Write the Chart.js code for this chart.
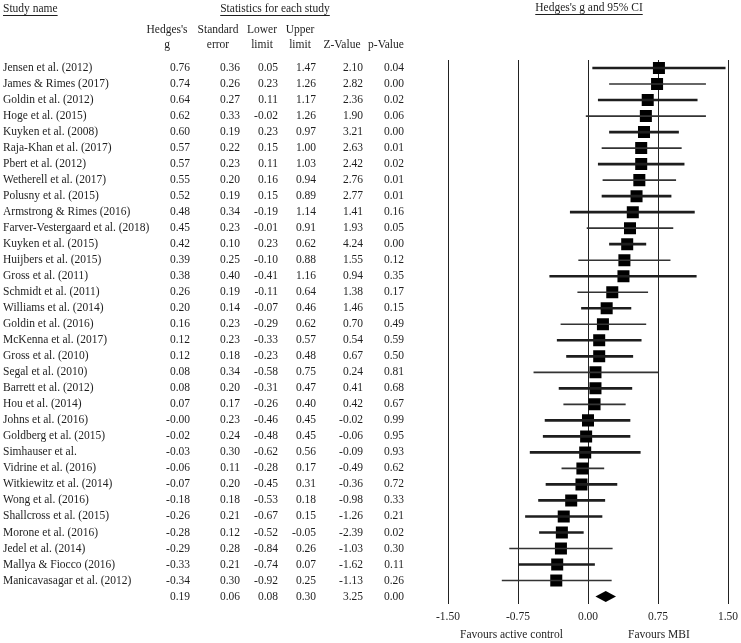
<!DOCTYPE html>
<html>
<head>
<meta charset="utf-8">
<script src="https://cdn.jsdelivr.net/npm/chart.js@4"></script>
<style>
  body { margin: 0; background: #fff; }
</style>
</head>
<body>
<canvas id="forest" width="741" height="643"></canvas>
<script>
const studies = [
  "Jensen et al. (2012)", "James & Rimes (2017)", "Goldin et al. (2012)", "Hoge et al. (2015)",
  "Kuyken et al. (2008)", "Raja-Khan et al. (2017)", "Pbert et al. (2012)", "Wetherell et al. (2017)",
  "Polusny et al. (2015)", "Armstrong & Rimes (2016)", "Farver-Vestergaard et al. (2018)",
  "Kuyken et al. (2015)", "Huijbers et al. (2015)", "Gross et al. (2011)", "Schmidt et al. (2011)",
  "Williams et al. (2014)", "Goldin et al. (2016)", "McKenna et al. (2017)", "Gross et al. (2010)",
  "Segal et al. (2010)", "Barrett et al. (2012)", "Hou et al. (2014)", "Johns et al. (2016)",
  "Goldberg et al. (2015)", "Simhauser et al.", "Vidrine et al. (2016)", "Witkiewitz et al. (2014)",
  "Wong et al. (2016)", "Shallcross et al. (2015)", "Morone et al. (2016)", "Jedel et al. (2014)",
  "Mallya & Fiocco (2016)", "Manicavasagar et al. (2012)"
];
const hedgesG = [0.76, 0.74, 0.64, 0.62, 0.60, 0.57, 0.57, 0.55, 0.52, 0.48, 0.45, 0.42, 0.39, 0.38,
  0.26, 0.20, 0.16, 0.12, 0.12, 0.08, 0.08, 0.07, -0, -0.02, -0.03, -0.06, -0.07, -0.18, -0.26,
  -0.28, -0.29, -0.33, -0.34];
const stdError = [0.36, 0.26, 0.27, 0.33, 0.19, 0.22, 0.23, 0.20, 0.19, 0.34, 0.23, 0.10, 0.25, 0.40,
  0.19, 0.14, 0.23, 0.23, 0.18, 0.34, 0.20, 0.17, 0.23, 0.24, 0.30, 0.11, 0.20, 0.18, 0.21, 0.12,
  0.28, 0.21, 0.30];
const lowerLimit = [0.05, 0.23, 0.11, -0.02, 0.23, 0.15, 0.11, 0.16, 0.15, -0.19, -0.01, 0.23, -0.10,
  -0.41, -0.11, -0.07, -0.29, -0.33, -0.23, -0.58, -0.31, -0.26, -0.46, -0.48, -0.62, -0.28, -0.45,
  -0.53, -0.67, -0.52, -0.84, -0.74, -0.92];
const upperLimit = [1.47, 1.26, 1.17, 1.26, 0.97, 1.00, 1.03, 0.94, 0.89, 1.14, 0.91, 0.62, 0.88, 1.16,
  0.64, 0.46, 0.62, 0.57, 0.48, 0.75, 0.47, 0.40, 0.45, 0.45, 0.56, 0.17, 0.31, 0.18, 0.15, -0.05,
  0.26, 0.07, 0.25];
const zValue = [2.10, 2.82, 2.36, 1.90, 3.21, 2.63, 2.42, 2.76, 2.77, 1.41, 1.93, 4.24, 1.55, 0.94,
  1.38, 1.46, 0.70, 0.54, 0.67, 0.24, 0.41, 0.42, -0.02, -0.06, -0.09, -0.49, -0.36, -0.98, -1.26,
  -2.39, -1.03, -1.62, -1.13];
const pValue = [0.04, 0.00, 0.02, 0.06, 0.00, 0.01, 0.02, 0.01, 0.01, 0.16, 0.05, 0.00, 0.12, 0.35,
  0.17, 0.15, 0.49, 0.59, 0.50, 0.81, 0.68, 0.67, 0.99, 0.95, 0.93, 0.62, 0.72, 0.33, 0.21, 0.02,
  0.30, 0.11, 0.26];

// pooled estimate
const summaryG = 0.19, summarySE = 0.06, summaryLower = 0.08, summaryUpper = 0.30;
const summaryZ = 3.25, summaryP = 0.00;

const axisTicks = [-1.5, -0.75, 0, 0.75, 1.5];

// styling
const FONT = '"Liberation Serif", "Times New Roman", serif';
const FONT_SIZE = 11.5;
const INK = '#1e1e1e';
const thinRows = [1, 3, 5, 7, 10, 12, 14, 16, 19, 21, 25, 30, 32];

const rows = studies.map((_, i) => i);
const summaryRow = studies.length;

function fmt(v) {
  return (Object.is(v, -0) ? '-' : '') + v.toFixed(2);
}

const columns = [
  { head: ["Hedges's", 'g'], center: 167, right: 190, values: hedgesG, pooled: summaryG },
  { head: ['Standard', 'error'], center: 218, right: 240, values: stdError, pooled: summarySE },
  { head: ['Lower', 'limit'], center: 262, right: 278, values: lowerLimit, pooled: summaryLower },
  { head: ['Upper', 'limit'], center: 300, right: 316, values: upperLimit, pooled: summaryUpper },
  { head: ['', 'Z-Value'], center: 342, right: 363, values: zValue, pooled: summaryZ },
  { head: ['', 'p-Value'], center: 386, right: 404, values: pValue, pooled: summaryP }
];

function underlined(ctx, text, x, y, align) {
  ctx.textAlign = align;
  ctx.fillText(text, x, y);
  const w = ctx.measureText(text).width;
  const x0 = align === 'center' ? x - w / 2 : x;
  ctx.fillRect(x0, y + 6, w, 1);
}

const tablePlugin = {
  id: 'studyTable',
  afterDraw(chart) {
    const { ctx, scales: { x, y } } = chart;
    ctx.save();
    ctx.fillStyle = INK;
    ctx.font = `${FONT_SIZE}px ${FONT}`;
    ctx.textBaseline = 'middle';

    underlined(ctx, 'Study name', 3, 9, 'left');
    underlined(ctx, 'Statistics for each study', 275, 9, 'center');
    underlined(ctx, "Hedges's g and 95% CI", 589, 8, 'center');

    ctx.textAlign = 'center';
    columns.forEach(c => {
      if (c.head[0]) ctx.fillText(c.head[0], c.center, 30);
      ctx.fillText(c.head[1], c.center, 45);
    });

    rows.forEach(i => {
      const py = y.getPixelForValue(i);
      ctx.textAlign = 'left';
      ctx.fillText(studies[i], 3, py);
      ctx.textAlign = 'right';
      columns.forEach(c => ctx.fillText(fmt(c.values[i]), c.right, py));
    });
    const sy = y.getPixelForValue(summaryRow);
    ctx.textAlign = 'right';
    columns.forEach(c => ctx.fillText(fmt(c.pooled), c.right, sy));

    ctx.textAlign = 'center';
    ctx.fillText('Favours active control', x.getPixelForValue(-0.82), 635);
    ctx.fillText('Favours MBI', x.getPixelForValue(0.76), 635);
    ctx.restore();
  },
  afterDatasetsDraw(chart) {
    const { ctx, scales: { x, y } } = chart;
    const cy = y.getPixelForValue(summaryRow);
    const half = 5.5;
    ctx.save();
    ctx.fillStyle = '#000';
    ctx.beginPath();
    ctx.moveTo(x.getPixelForValue(summaryLower), cy);
    ctx.lineTo(x.getPixelForValue(summaryG), cy - half);
    ctx.lineTo(x.getPixelForValue(summaryUpper), cy);
    ctx.lineTo(x.getPixelForValue(summaryG), cy + half);
    ctx.closePath();
    ctx.fill();
    ctx.restore();
  }
};

const ciLine = i => ({ y: i, x: [lowerLimit[i], upperLimit[i]] });

new Chart(document.getElementById('forest'), {
  type: 'scatter',
  data: {
    datasets: [
      {
        type: 'bar',
        indexAxis: 'y',
        grouped: false,
        barThickness: 2,
        backgroundColor: INK,
        data: rows.filter(i => !thinRows.includes(i)).map(ciLine)
      },
      {
        type: 'bar',
        indexAxis: 'y',
        grouped: false,
        barThickness: 1,
        backgroundColor: '#333',
        data: rows.filter(i => thinRows.includes(i)).map(ciLine)
      },
      {
        type: 'scatter',
        data: rows.map(i => ({ x: hedgesG[i], y: i })),
        pointStyle: 'rect',
        pointRadius: 8.5,
        pointHoverRadius: 8.5,
        backgroundColor: '#000',
        borderWidth: 0
      }
    ]
  },
  options: {
    responsive: false,
    animation: false,
    layout: { padding: { left: 448, right: 13, top: 60, bottom: 13.6 } },
    plugins: { legend: { display: false }, tooltip: { enabled: false } },
    scales: {
      x: {
        type: 'linear',
        min: axisTicks[0],
        max: axisTicks[axisTicks.length - 1],
        offset: false,
        afterBuildTicks: scale => { scale.ticks = axisTicks.map(v => ({ value: v })); },
        afterFit: scale => { scale.paddingRight = 0; scale.paddingLeft = 0; },
        ticks: {
          callback: v => v.toFixed(2),
          color: INK,
          padding: 6,
          maxRotation: 0,
          font: { family: FONT, size: FONT_SIZE }
        },
        grid: { color: '#222', lineWidth: 1, drawTicks: false, offset: false },
        border: { display: false }
      },
      y: {
        type: 'linear',
        display: false,
        reverse: true,
        offset: false,
        grace: 0,
        min: -0.5,
        max: 33.44
      }
    }
  },
  plugins: [tablePlugin]
});
</script>
</body>
</html>
